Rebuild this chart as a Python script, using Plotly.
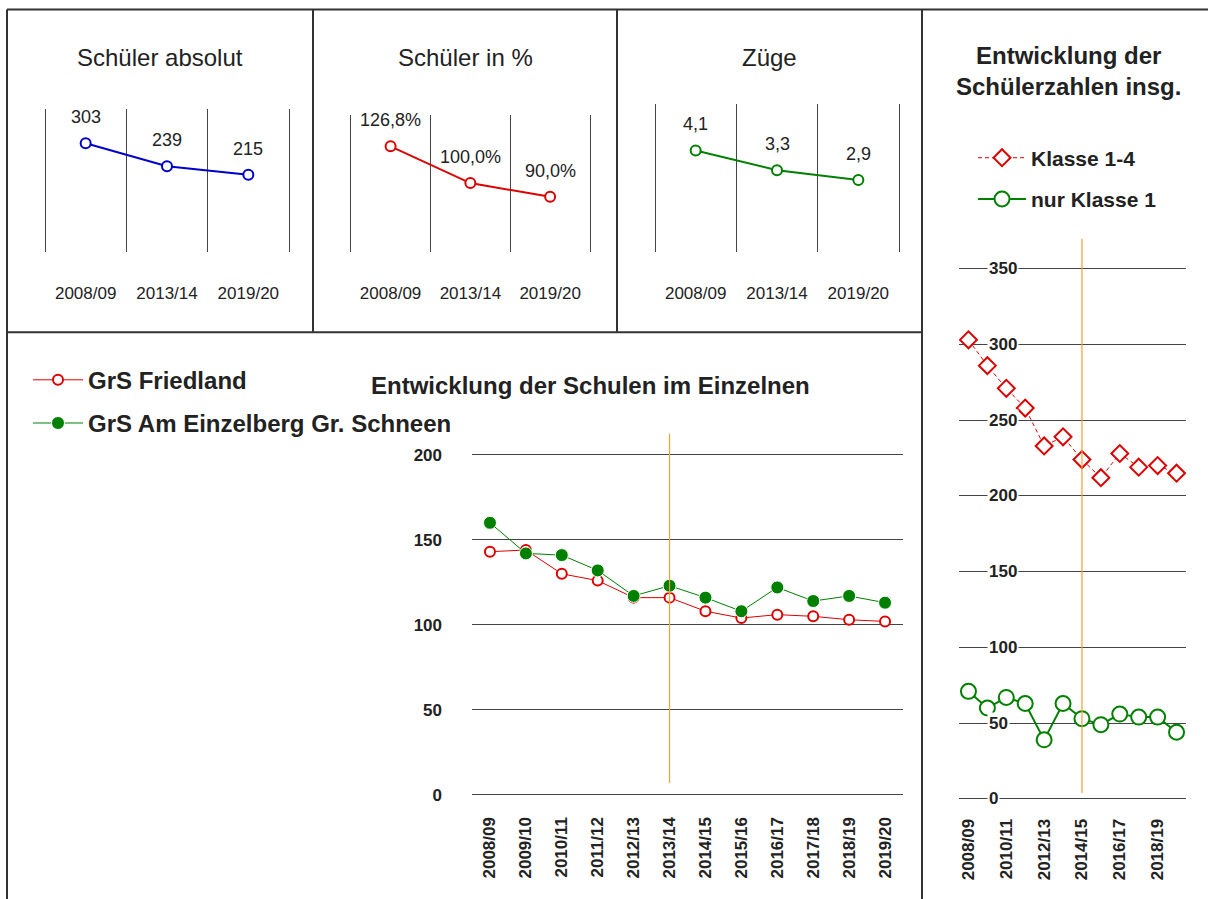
"""Schuelerzahlen Grundschulen Friedland / Gr. Schneen - Dashboard nachgebaut."""
import plotly.graph_objects as go

W, H = 1208, 899

# --- Daten ---------------------------------------------------------------
YEARS_SHORT = ["2008/09", "2013/14", "2019/20"]
SCHUELER_ABS = [303, 239, 215]
SCHUELER_PCT = [126.8, 100.0, 90.0]
ZUEGE = [4.1, 3.3, 2.9]

YEARS = ["2008/09", "2009/10", "2010/11", "2011/12", "2012/13", "2013/14",
         "2014/15", "2015/16", "2016/17", "2017/18", "2018/19", "2019/20"]
FRIEDLAND = [143, 144, 130, 126, 116, 116, 108, 104, 106, 105, 103, 102]
SCHNEEN = [160, 142, 141, 132, 117, 123, 116, 108, 122, 114, 117, 113]
KLASSE_1_4 = [303, 286, 271, 258, 233, 239, 224, 212, 228, 219, 220, 215]
KLASSE_1 = [71, 60, 67, 63, 39, 63, 53, 49, 56, 54, 54, 44]
RIGHT_TICKS = [0, 50, 100, 150, 200, 250, 300, 350]
MARK_MID = "2013/14"
MARK_RIGHT = "2014/15"

# farben / fonts
BLUE, RED, GREEN, ORANGE = "#0000CC", "#DD0000", "#008000", "#F5A033"
TXT, FRAME, GRID = "#222222", "#333333", "#444444"
REG = "Liberation Sans, Arial, sans-serif"

# im Screenshot landet die Grafik ~7px tiefer und etwas gestaucht -> ausgleichen
Y_OFF, Y_SPAN = 7.5, 883.5


def fx(px):
    return px / W


def fy(py):
    return 1 - (py - Y_OFF) / Y_SPAN


def de(v, suffix=""):
    return f"{v:.1f}".replace(".", ",") + suffix


fig = go.Figure()

# --- drei kleine Kacheln oben -------------------------------------------
tiles = [
    ("Schüler absolut", SCHUELER_ABS, BLUE, [str(v) for v in SCHUELER_ABS], (45, 289), (109, 252), [0, 400], 160),
    ("Schüler in %", SCHUELER_PCT, RED, [de(v, "%") for v in SCHUELER_PCT], (350.7, 590), (115, 252), [50, 150], 465),
    ("Züge", ZUEGE, GREEN, [de(v) for v in ZUEGE], (655, 899), (104, 252), [0, 6], 769.5),
]
xs3 = list(range(len(YEARS_SHORT)))
annotations = []
for i, (title, vals, col, labels, xd, yd, yr, tx) in enumerate(tiles, start=1):
    sfx = "" if i == 1 else str(i)
    fig.add_trace(go.Scatter(
        x=xs3, y=vals, mode="lines+markers", xaxis=f"x{sfx}", yaxis=f"y{sfx}",
        line=dict(color=col, width=2),
        marker=dict(symbol="circle", size=10, color="white", line=dict(color=col, width=2)),
        showlegend=False, hoverinfo="skip",
    ))
    step = (xd[1] - xd[0]) / 3
    fig.layout[f"xaxis{sfx}"] = dict(
        domain=[fx(xd[0] - 0.02 * step), fx(xd[1] + 0.02 * step)], range=[-0.52, 2.52],
        anchor=f"y{sfx}", tickmode="array", tickvals=xs3, ticktext=YEARS_SHORT,
        showgrid=False, zeroline=False, showline=False, ticks="",
        tickfont=dict(family=REG, size=17, color=TXT), ticklabelstandoff=29,
        minor=dict(tickmode="array", tickvals=[-0.5, 0.5, 1.5, 2.5], showgrid=True,
                   gridcolor=GRID, gridwidth=1, ticks=""),
        fixedrange=True,
    )
    fig.layout[f"yaxis{sfx}"] = dict(
        domain=[fy(yd[1]), fy(yd[0])], range=yr, anchor=f"x{sfx}",
        showgrid=False, zeroline=False, showline=False, showticklabels=False, ticks="",
        fixedrange=True,
    )
    for x, v, t in zip(xs3, vals, labels):
        annotations.append(dict(x=x, y=v, xref=f"x{sfx}", yref=f"y{sfx}", text=t, showarrow=False,
                                yshift=26, font=dict(family=REG, size=18, color=TXT)))
    annotations.append(dict(x=fx(tx), y=fy(58), xref="paper", yref="paper", text=title,
                            showarrow=False, xanchor="center", yanchor="middle",
                            font=dict(family=REG, size=24, color=TXT)))

# --- Schulen im Einzelnen -----------------------------------------------
xs = list(range(len(YEARS)))
fig.add_trace(go.Scatter(
    x=xs, y=FRIEDLAND, name="GrS Friedland", mode="lines+markers", xaxis="x4", yaxis="y4",
    line=dict(color=RED, width=1),
    marker=dict(symbol="circle", size=10, color="white", line=dict(color=RED, width=2)),
    legend="legend", legendgroup="a",
))
fig.add_trace(go.Scatter(
    x=xs, y=SCHNEEN, name="GrS Am Einzelberg Gr. Schneen", mode="lines+markers", xaxis="x4", yaxis="y4",
    line=dict(color=GREEN, width=1),
    marker=dict(symbol="circle", size=13, color=GREEN, line=dict(color="white", width=1)),
    legend="legend", legendgroup="b",
))
# range etwas ueber 0..200 hinaus, damit die Randgitterlinien bleiben
fig.layout.xaxis4 = dict(
    domain=[fx(472), fx(903)], range=[-0.5, 11.5], anchor="y4",
    tickmode="array", tickvals=xs, ticktext=YEARS, tickangle=-90,
    showgrid=False, zeroline=False, showline=False, ticks="",
    tickfont=dict(family=REG, size=17, color=TXT, weight="bold"), ticklabelstandoff=16,
    fixedrange=True,
)
fig.layout.yaxis4 = dict(
    domain=[fy(796.7), fy(453.3)], range=[-1, 201], anchor="x4", tickmode="array",
    tickvals=[0, 50, 100, 150, 200],
    showgrid=True, gridcolor=GRID, gridwidth=1, zeroline=False, showline=False, ticks="",
    tickfont=dict(family=REG, size=17, color=TXT, weight="bold"), ticklabelstandoff=29,
    fixedrange=True,
)
annotations.append(dict(x=fx(590), y=fy(386), xref="paper", yref="paper",
                        text="<b>Entwicklung der Schulen im Einzelnen</b>", showarrow=False,
                        xanchor="center", yanchor="middle", font=dict(family=REG, size=24, color=TXT)))

# --- Schuelerzahlen insgesamt -------------------------------------------
fig.add_trace(go.Scatter(
    x=xs, y=KLASSE_1_4, name="Klasse 1-4", mode="lines+markers", xaxis="x5", yaxis="y5",
    line=dict(color=RED, width=1, dash="4px,3px"),
    marker=dict(symbol="diamond", size=13, color="white", line=dict(color=RED, width=2)),
    legend="legend2", legendgroup="c",
))
fig.add_trace(go.Scatter(
    x=xs, y=KLASSE_1, name="nur Klasse 1", mode="lines+markers", xaxis="x5", yaxis="y5",
    line=dict(color=GREEN, width=2),
    marker=dict(symbol="circle", size=15, color="white", line=dict(color=GREEN, width=2)),
    legend="legend2", legendgroup="d",
))
fig.layout.xaxis5 = dict(
    domain=[fx(959), fx(1186)], range=[-0.5, 11.5], anchor="y5",
    tickmode="array", tickvals=xs[::2], ticktext=YEARS[::2], tickangle=-90,
    showgrid=False, zeroline=False, showline=False, ticks="",
    tickfont=dict(family=REG, size=17, color=TXT, weight="bold"), ticklabelstandoff=14,
    fixedrange=True,
)
fig.layout.yaxis5 = dict(
    domain=[fy(800.5), fy(267.5)], range=[-1, 351], anchor="x5", tickmode="array", tickvals=RIGHT_TICKS,
    showgrid=True, gridcolor=GRID, gridwidth=1, zeroline=False, showline=False, ticks="",
    showticklabels=False, fixedrange=True,
)
for v in RIGHT_TICKS:
    annotations.append(dict(x=fx(987), y=v, xref="paper", yref="y5", text=f"<b>{v}</b>",
                            showarrow=False, xanchor="left", yanchor="middle", bgcolor="white",
                            borderpad=1, font=dict(family=REG, size=17, color=TXT)))
annotations.append(dict(x=fx(1068), y=fy(71), xref="paper", yref="paper",
                        text="<b>Entwicklung der<br>Schülerzahlen insg.</b>", showarrow=False,
                        xanchor="center", yanchor="middle", font=dict(family=REG, size=24, color=TXT)))

# --- Rahmen + Markierungslinien ------------------------------------------
shapes = []
for x0, y0, x1, y1 in [(7, 10, W, 10), (7, 10, 7, H), (313, 10, 313, 333), (617, 10, 617, 333),
                       (922, 10, 922, H), (7, 332.5, 922, 332.5)]:
    shapes.append(dict(type="line", xref="paper", yref="paper", x0=fx(x0), x1=fx(x1), y0=fy(y0), y1=fy(y1),
                       line=dict(color=FRAME, width=2)))
shapes.append(dict(type="line", xref="x4", yref="paper", x0=YEARS.index(MARK_MID), x1=YEARS.index(MARK_MID),
                   y0=fy(783), y1=fy(434), line=dict(color=ORANGE, width=1.2), layer="above"))
shapes.append(dict(type="line", xref="x5", yref="paper", x0=YEARS.index(MARK_RIGHT), x1=YEARS.index(MARK_RIGHT),
                   y0=fy(793), y1=fy(239), line=dict(color=ORANGE, width=1.2), layer="above"))

fig.update_layout(
    width=W, height=H, margin=dict(l=0, r=0, t=0, b=0),
    paper_bgcolor="white", plot_bgcolor="white",
    font=dict(family=REG, color=TXT),
    shapes=shapes, annotations=annotations,
    legend=dict(x=fx(28), y=fy(358), xanchor="left", yanchor="top", bgcolor="white",
                font=dict(family=REG, size=24, color=TXT, weight="bold"),
                itemwidth=50, traceorder="grouped", tracegroupgap=9),
    legend2=dict(x=fx(973), y=fy(138), xanchor="left", yanchor="top", bgcolor="rgba(0,0,0,0)",
                 font=dict(family=REG, size=21, color=TXT, weight="bold"),
                 itemwidth=48, traceorder="grouped", tracegroupgap=11),
    hovermode=False,
)

# body-Rand weg, sonst verschiebt der Browser die 1208x899-Grafik
fig.write_html("out.html", config={"displayModeBar": False},
               post_script="document.body.style.margin='0';document.body.style.overflow='hidden';")
